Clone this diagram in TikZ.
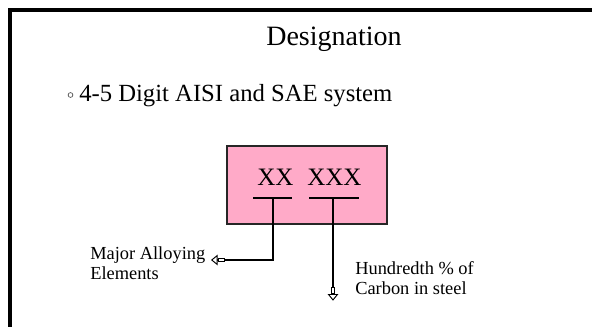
\documentclass[tikz,border=0pt]{standalone}
\usepackage{fontspec}
\setmainfont{Liberation Serif}
\usepackage{xcolor}
\usetikzlibrary{arrows.meta, positioning}
\definecolor{slidepink}{RGB}{255,170,200}
\tikzstyle{frame} = [line width=3pt, draw=black, line join=miter]
\tikzstyle{heading} = [inner sep=0pt, font=\fontsize{21}{25}\selectfont]
\tikzstyle{bulletmark} = [circle, draw=black!70, line width=0.5pt, minimum size=3.6pt, inner sep=0pt]
\tikzstyle{codebox} = [rectangle, draw=black!85, line width=1.1pt, fill=slidepink, minimum width=120pt, minimum height=58.5pt]
\tikzstyle{digits} = [inner sep=0pt, font=\fontsize{18.8}{22}\selectfont]
\tikzstyle{note} = [inner sep=0pt, align=left, font=\fontsize{13.8}{15}\selectfont]
\tikzstyle{bar} = [line width=1pt]
\tikzstyle{arrow} = [line width=1pt, -{Rectangle[open,fill=white,length=5.5pt,width=3.6pt,line width=0.7pt] Triangle[open,fill=white,length=5pt,width=8pt,line width=0.7pt]}]

\begin{document}
\begin{tikzpicture}[x=0.75pt, y=-0.75pt]
    \useasboundingbox (0,0) rectangle (592,327);

    % --- Rahmen ---
    \draw [frame] (592,10.5) -- (9.7,10.5) -- (9.7,327);

    % --- Titel und Aufzaehlung ---
    \node (title) [heading, anchor=base] at (334,45.7) {Designation};
    \node (bullet) [bulletmark] at (70.5,95) {};
    \node (system) [heading, font=\fontsize{18.5}{22}\selectfont, anchor=base west] at (79,101.7) {4-5 Digit AISI and SAE system};

    % --- Kasten mit den Ziffern ---
    \node (code) [codebox] at (307,185) {};
    \node (xx) [digits, anchor=base west] at (257,185.7) {XX};
    \node (xxx) [digits, anchor=base west] at (307,185.7) {XXX};

    % Striche unter den Ziffern
    \coordinate (xxbar) at (273,198);
    \coordinate (xxxbar) at (333,198);
    \draw [bar] (253,198) -- (292,198);
    \draw [bar] (309,198) -- (359,198);

    % --- Beschriftungen (base = letzte Zeile) ---
    \node (alloy) [note, anchor=base west] at (90,280) {Major Alloying\\Elements};
    \node (carbon) [note, anchor=base west] at (355,295) {Hundredth \% of\\Carbon in steel};

    % --- Pfeile ---
    \coordinate (alloytip) at (211,260);
    \coordinate (carbontip) at (333,300.7);
    \draw [arrow] (xxbar) |- (alloytip);
    \draw [arrow] (xxxbar) -- (carbontip);

\end{tikzpicture}
\end{document}
